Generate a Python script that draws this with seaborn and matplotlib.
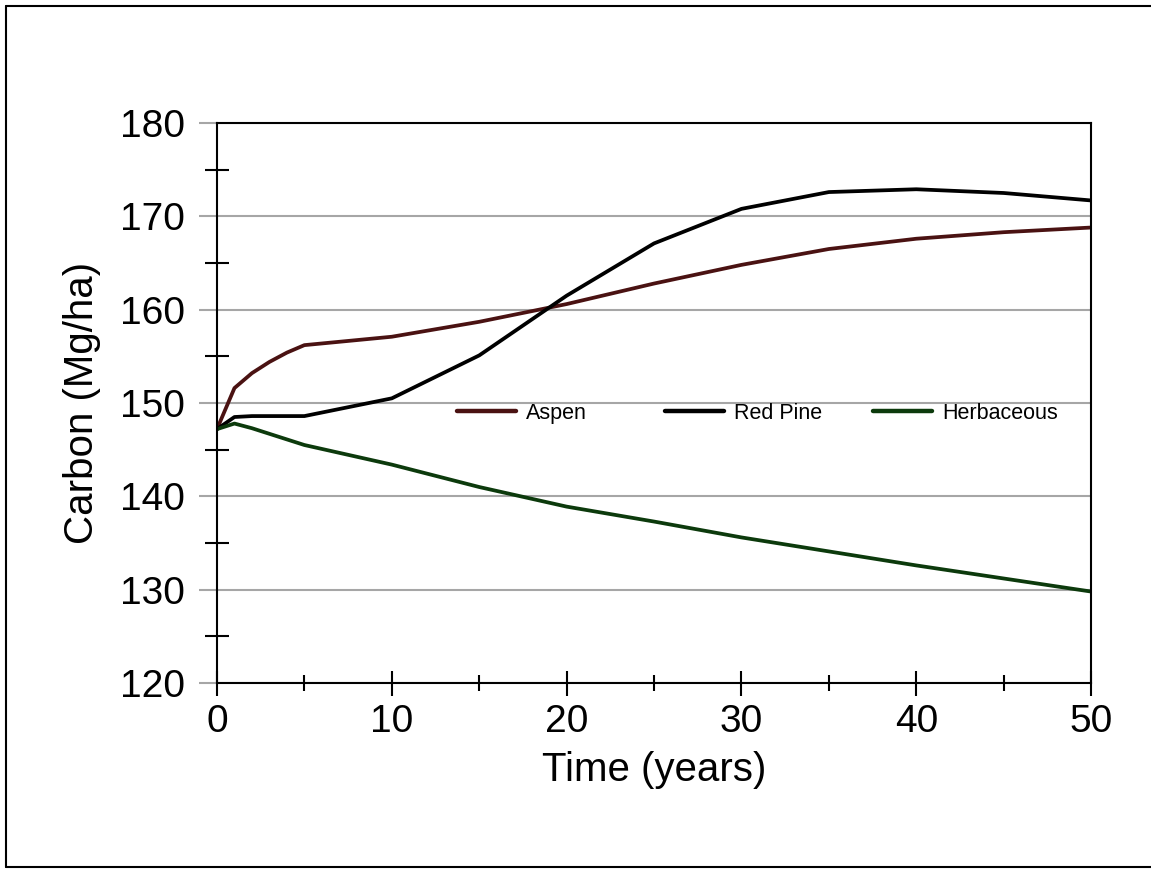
import matplotlib
matplotlib.use("Agg")
import matplotlib.pyplot as plt
from matplotlib.lines import Line2D
from matplotlib.legend import Legend
from matplotlib.ticker import MultipleLocator
import seaborn as sns
import pandas as pd

# Simulated soil + biomass carbon after establishment (Mg/ha)
years = [0, 1, 2, 3, 4, 5, 10, 15, 20, 25, 30, 35, 40, 45, 50]
aspen = [147.2, 151.6, 153.2, 154.4, 155.4, 156.2, 157.1, 158.7, 160.6,
         162.8, 164.8, 166.5, 167.6, 168.3, 168.8]
red_pine = [147.2, 148.5, 148.6, 148.6, 148.6, 148.6, 150.5, 155.1, 161.5,
            167.1, 170.8, 172.6, 172.9, 172.5, 171.7]
herbaceous = [147.2, 147.8, 147.3, 146.7, 146.1, 145.5, 143.4, 141.0, 138.9,
              137.3, 135.6, 134.1, 132.6, 131.2, 129.8]

series_names = ["Aspen", "Red Pine", "Herbaceous"]
series_colors = ["#4a1212", "#000000", "#0c3a0c"]

df = pd.DataFrame({"Time": years, "Aspen": aspen,
                   "Red Pine": red_pine, "Herbaceous": herbaceous})
long_df = df.melt(id_vars="Time", var_name="Cover", value_name="Carbon")

sns.set_style("white")
plt.rcParams["font.family"] = ["Liberation Sans", "DejaVu Sans"]
plt.rcParams["text.color"] = "black"
plt.rcParams["axes.labelcolor"] = "black"
plt.rcParams["xtick.labelcolor"] = "black"
plt.rcParams["ytick.labelcolor"] = "black"

fig = plt.figure(figsize=(11.51, 8.71), dpi=100)
ax = fig.add_axes([0.1885, 0.2158, 0.7595, 0.6430])

sns.lineplot(data=long_df, x="Time", y="Carbon", hue="Cover",
             hue_order=series_names, palette=series_colors,
             linewidth=2.7, ax=ax, legend=False)

ax.set_xlim(0, 50)
ax.set_ylim(120, 180)
ax.xaxis.set_major_locator(MultipleLocator(10))
ax.xaxis.set_minor_locator(MultipleLocator(5))
ax.yaxis.set_major_locator(MultipleLocator(10))
ax.yaxis.set_minor_locator(MultipleLocator(5))

ax.grid(axis="y", which="major", color="#a6a6a6", linewidth=1.5)
ax.set_axisbelow(True)

for side in ["left", "right", "top", "bottom"]:
    ax.spines[side].set_visible(True)
    ax.spines[side].set_color("#000000")
    ax.spines[side].set_linewidth(1.5)

ax.tick_params(axis="y", which="major", direction="out", length=13,
               width=1.5, color="#a6a6a6", labelsize=28, pad=10,
               left=True)
ax.tick_params(axis="y", which="minor", direction="inout", length=17,
               width=1.5, color="#000000", left=True)
ax.tick_params(axis="x", which="major", direction="inout", length=18,
               width=1.5, color="#000000", labelsize=28, pad=6,
               bottom=True)
ax.tick_params(axis="x", which="minor", direction="inout", length=12,
               width=1.5, color="#000000", bottom=True)

ax.set_xlabel("Time (years)", fontsize=29, labelpad=8)
ax.set_ylabel("Carbon (Mg/ha)", fontsize=29, labelpad=14)

# legend entries laid out in equal-width slots along one row
slot_starts = [0.2746, 0.5126, 0.7506]
for name, color, x0 in zip(series_names, series_colors, slot_starts):
    leg = Legend(ax, [Line2D([0], [0], color=color, linewidth=3.2)], [name],
                 frameon=False, fontsize=15.5, loc="center left",
                 bbox_to_anchor=(x0, 0.482), borderpad=0,
                 borderaxespad=0, handlelength=2.75, handletextpad=0.45)
    ax.add_artist(leg)

# thin frame around the figure
fig.add_artist(Line2D([6 / 1151, 6 / 1151], [1 - 6 / 871, 1 - 867 / 871],
                      transform=fig.transFigure, color="#000000", linewidth=1.5))
fig.add_artist(Line2D([6 / 1151, 1], [1 - 6 / 871, 1 - 6 / 871],
                      transform=fig.transFigure, color="#000000", linewidth=1.5))
fig.add_artist(Line2D([6 / 1151, 1], [1 - 867 / 871, 1 - 867 / 871],
                      transform=fig.transFigure, color="#000000", linewidth=1.5))

fig.savefig("out.png", dpi=100, facecolor="white")
